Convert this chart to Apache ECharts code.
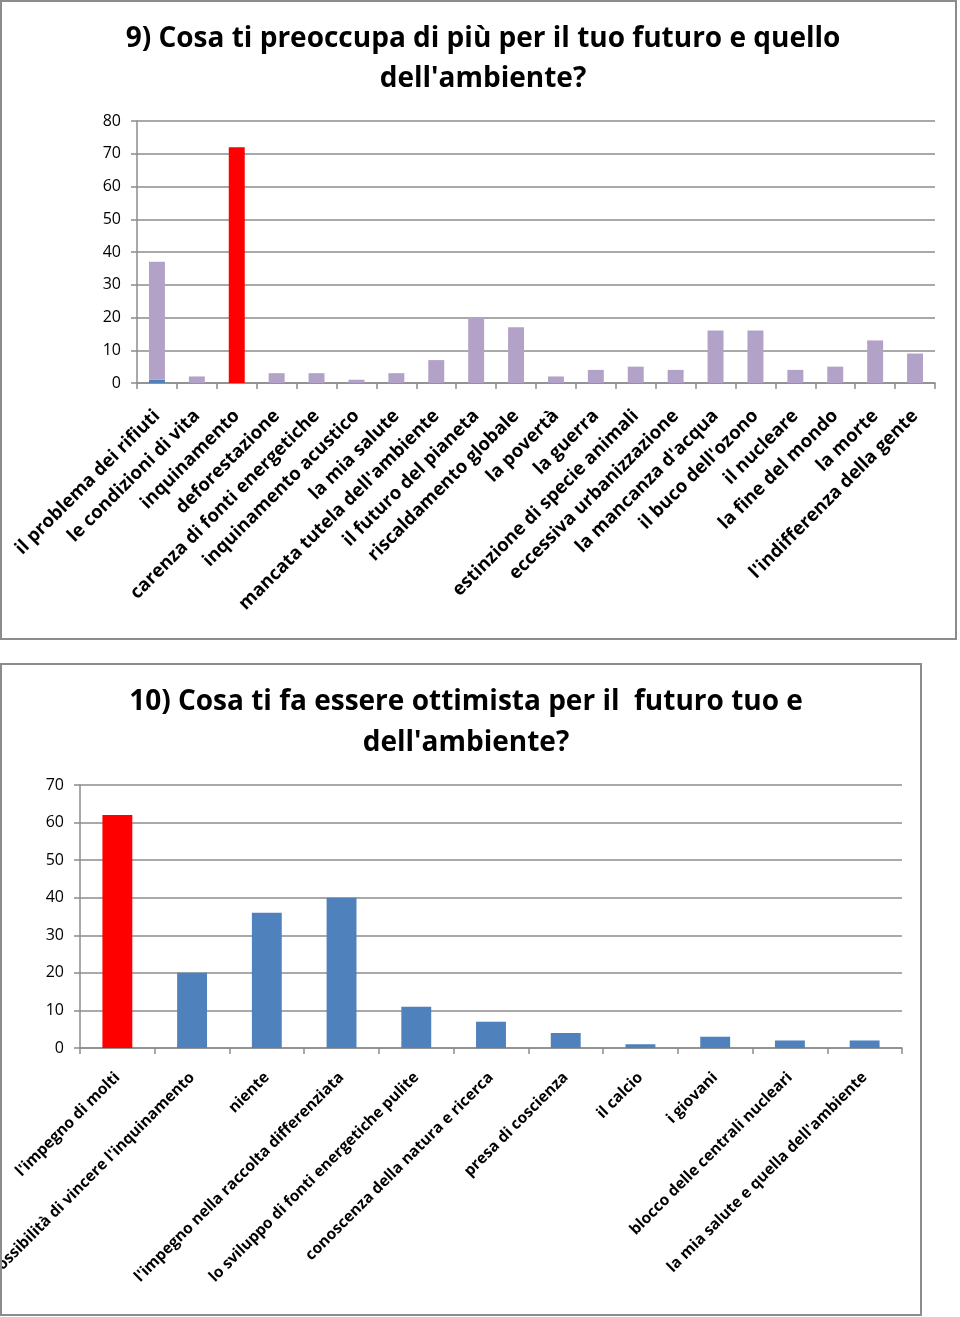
<!DOCTYPE html>
<html>
<head>
<meta charset="utf-8">
<script src="https://cdn.jsdelivr.net/npm/echarts@6/dist/echarts.min.js"></script>
<style>
html,body{margin:0;padding:0;background:#fff;}
#c{width:960px;height:1317px;}
</style>
</head>
<body>
<div id="c"></div>
<script>
// ---- Chart 1 data ----
const title1 = "9) Cosa ti preoccupa di più per il tuo futuro e quello\ndell'ambiente?";
const cats1 = [
  "il problema dei rifiuti", "le condizioni di vita", "inquinamento", "deforestazione",
  "carenza di fonti energetiche", "inquinamento acustico", "la mia salute",
  "mancata tutela dell'ambiente", "il futuro del pianeta", "riscaldamento globale",
  "la povertà", "la guerra", "estinzione di specie animali", "eccessiva urbanizzazione",
  "la mancanza d'acqua", "il buco dell'ozono", "il nucleare", "la fine del mondo",
  "la morte", "l'indifferenza della gente"
];
const blue1 = [1, 0, 0, 0, 0, 0, 0, 0, 0, 0, 0, 0, 0, 0, 0, 0, 0, 0, 0, 0];
const purple1 = [36, 2, 72, 3, 3, 1, 3, 7, 20, 17, 2, 4, 5, 4, 16, 16, 4, 5, 13, 9];
const highlight1 = "inquinamento";
const yTicks1 = [0, 10, 20, 30, 40, 50, 60, 70, 80];

// ---- Chart 2 data ----
const title2 = "10) Cosa ti fa essere ottimista per il  futuro tuo e\ndell'ambiente?";
const cats2 = [
  "l'impegno di molti", "possibilità di vincere l'inquinamento", "niente",
  "l'impegno nella raccolta differenziata", "lo sviluppo di fonti energetiche pulite",
  "conoscenza della natura e ricerca", "presa di coscienza", "il calcio", "i giovani",
  "blocco delle centrali nucleari", "la mia salute e quella dell'ambiente"
];
const values2 = [62, 20, 36, 40, 11, 7, 4, 1, 3, 2, 2];
const highlight2 = "l'impegno di molti";
const yTicks2 = [0, 10, 20, 30, 40, 50, 60, 70];

const FONT = "Open Sans";
const GRIDC = "#8c8c8c";
const BLUE = "#4f81bd", PURPLE = "#b3a2c7", RED = "#ff0000";

const chart = echarts.init(document.getElementById('c'), null, {renderer: 'canvas'});

function xAxisCfg(gridIndex, cats, fs, margin) {
  return {
    type: 'category', gridIndex: gridIndex, data: cats,
    axisLine: {lineStyle: {color: GRIDC, width: 1.5}},
    axisTick: {show: true, length: 6, lineStyle: {color: GRIDC, width: 1.5}},
    axisLabel: {interval: 0, rotate: 45, margin: margin, color: '#000', fontFamily: FONT,
      fontWeight: 'bold', fontSize: fs, hideOverlap: false}
  };
}
function yAxisCfg(gridIndex, ticks) {
  return {
    type: 'value', gridIndex: gridIndex, min: ticks[0], max: ticks[ticks.length - 1],
    interval: ticks[1] - ticks[0],
    axisLine: {show: true, lineStyle: {color: GRIDC, width: 1.5}},
    axisTick: {show: true, length: 6, lineStyle: {color: GRIDC, width: 1.5}},
    splitLine: {show: true, lineStyle: {color: GRIDC, width: 1.5}},
    axisLabel: {color: '#000', fontFamily: FONT, fontSize: 16, margin: 16}
  };
}

const option = {
  animation: false,
  backgroundColor: '#fff',
  title: [
    {text: title1, left: 478, top: 14, textAlign: 'center',
      textStyle: {fontFamily: FONT, fontWeight: 'bold', fontSize: 28, lineHeight: 40, color: '#000'}},
    {text: title2, left: 461, top: 677, textAlign: 'center',
      textStyle: {fontFamily: FONT, fontWeight: 'bold', fontSize: 28, lineHeight: 41, color: '#000'}}
  ],
  graphic: [
    {type: 'rect', shape: {x: 1, y: 1, width: 955, height: 638},
      style: {fill: 'none', stroke: '#8c8c8c', lineWidth: 2}, silent: true, z: 100},
    {type: 'rect', shape: {x: 1, y: 664, width: 920, height: 651},
      style: {fill: 'none', stroke: '#8c8c8c', lineWidth: 2}, silent: true, z: 100}
  ],
  grid: [
    {left: 137, top: 121, width: 798, height: 262, containLabel: false, outerBoundsMode: 'none'},
    {left: 80, top: 785, width: 822, height: 263, containLabel: false, outerBoundsMode: 'none'}
  ],
  xAxis: [xAxisCfg(0, cats1, 18.5, 30), xAxisCfg(1, cats2, 15.5, 27)],
  yAxis: [yAxisCfg(0, yTicks1), yAxisCfg(1, yTicks2)],
  series: [
    {type: 'bar', xAxisIndex: 0, yAxisIndex: 0, stack: 's1', barWidth: '40%',
      itemStyle: {color: BLUE}, data: blue1},
    {type: 'bar', xAxisIndex: 0, yAxisIndex: 0, stack: 's1', barWidth: '40%',
      data: purple1.map((v, i) => ({value: v,
        itemStyle: {color: cats1[i] === highlight1 ? RED : PURPLE}}))},
    {type: 'bar', xAxisIndex: 1, yAxisIndex: 1, barWidth: '40%',
      data: values2.map((v, i) => ({value: v,
        itemStyle: {color: cats2[i] === highlight2 ? RED : BLUE}}))}
  ]
};
chart.setOption(option);
</script>
</body>
</html>
